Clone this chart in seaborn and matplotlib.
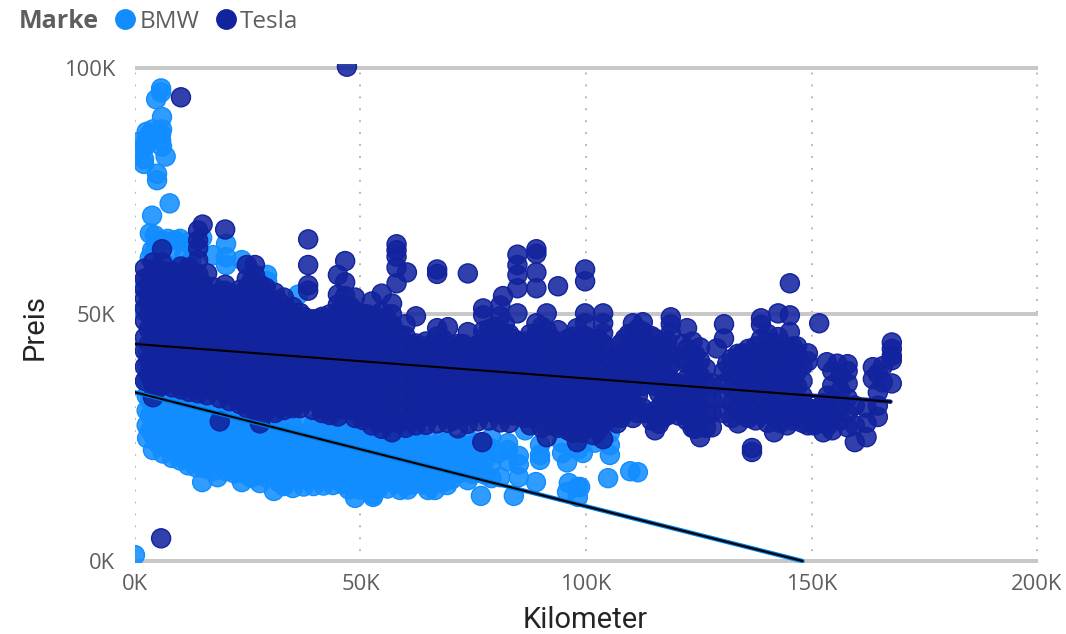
import pandas as pd
import matplotlib
matplotlib.use('Agg')
import matplotlib.pyplot as plt
import seaborn as sns
from matplotlib.lines import Line2D

# Values, in thousands: (kilometer, [prices at that kilometer])
bmw_columns = [
    (0, [1.2]),
    (1.1, [85]),
    (1.5, [83.5]),
    (1.8, [50.8, 55.5]),
    (2, [80.5, 81.5]),
    (2.2, [84]),
    (2.5, [57]),
    (2.6, [27.5, 30.5, 33.5, 36.5, 85.5, 87]),
    (2.7, [24.9, 39.5, 42.5]),
    (3.3, [61.5, 66.4, 86.5]),
    (3.8, [63, 70]),
    (4, [22.5, 25.5, 28.6, 31.7, 34.8, 87.5]),
    (4.4, [66]),
    (4.6, [63.5]),
    (4.7, [93.6]),
    (4.8, [65]),
    (4.9, [77.2, 78.5]),
    (5, [87]),
    (5.8, [85.2, 86.6, 95, 95.8]),
    (6, [65, 84, 87.5, 90]),
    (6.2, [21.8, 24.7, 27.9, 30.8, 34]),
    (6.8, [82]),
    (7, [60]),
    (7.3, [65.3]),
    (7.7, [72.5]),
    (8, [63]),
    (8.2, [20.9, 23.6, 26.8, 29.9, 33]),
    (9, [65]),
    (10, [20.4, 23.2, 26.5, 29.4, 32.7, 65.3]),
    (11, [62]),
    (11.5, [64.5]),
    (11.8, [19.4, 22.4, 25.6, 28.7, 31.8, 60]),
    (12.5, [61]),
    (13, [58]),
    (13.5, [19, 22.1, 25.2, 28.3, 31.5]),
    (14.9, [16, 19.3, 65.5]),
    (15.5, [18.8, 21.9, 24.8, 27.8, 31]),
    (17.3, [18.3, 21.3, 24.5, 27.5, 30.6, 62]),
    (18.3, [17]),
    (20.2, [18.2, 21.1, 24.2, 27.3, 30.4, 60, 61.6, 64.3]),
    (22, [17.8, 20.8, 23.8, 26.9, 30]),
    (23.7, [16, 19.2, 22.4, 25.4, 28.5, 61]),
    (25.8, [16.9, 20, 23.1, 26.2, 29.3]),
    (27.7, [15.8, 18.9, 22, 25.1, 28.2]),
    (29.3, [56.7, 58]),
    (30.8, [14.2, 17.4, 20.6, 23.7, 26.8, 29.9]),
    (33, [15.2, 18.3, 21.4, 24.5, 27.6]),
    (35, [14.8, 17.9, 21, 24.1, 27.2, 30.1]),
    (36.2, [54]),
    (37.4, [15.1, 18.2, 21.3, 24.3, 27.4]),
    (39.6, [15.2, 18.4, 21.5, 24.6, 27.7]),
    (41.8, [15.3, 18.5, 21.6, 24.7, 27.8]),
    (43.9, [15.4, 18.6, 21.7, 24.8, 27.9]),
    (46, [15.6, 18.7, 21.8, 24.9, 28]),
    (48.8, [12.8, 15.9, 19, 22.1, 25.2, 28.1]),
    (50.8, [15.6, 18.8, 21.9, 25, 28.2]),
    (52.8, [13, 13.4, 16.4, 19.5, 22.6, 25.7]),
    (55, [15.8, 19, 22.1, 25.2, 28]),
    (57, [16, 19.1, 22.3, 25.4]),
    (58.8, [14.4, 17.5, 20.6, 23.7, 26.5]),
    (60.5, [14.5, 17.6, 20.7, 23.8, 26]),
    (62.5, [16.2, 19.3, 22.4, 25.5]),
    (65, [14.4, 16.5, 19.6, 22.7, 24.8]),
    (66.5, [14.4, 17.2, 20.2, 23.3]),
    (69.2, [15.4, 18.5, 21.6, 24.2]),
    (71.5, [17.8, 20.7, 23.6]),
    (73.8, [16.4, 19.2, 22.1, 24.7]),
    (76, [18.8, 21.8, 24]),
    (76.7, [13.2]),
    (79, [16.8, 19.7, 22.8, 25]),
    (80.5, [21.9]),
    (81, [17]),
    (82.7, [20.2, 22.5, 23.9]),
    (84, [13.2]),
    (85.1, [17, 19.6, 21.3]),
    (86.5, [26.5]),
    (88.9, [16]),
    (89.8, [20.5, 21.5, 23.5]),
    (94.7, [21.9, 24]),
    (95.8, [14, 20]),
    (96.2, [15.8]),
    (98.2, [13, 15, 22.6]),
    (98.7, [15]),
    (99.3, [21.9]),
    (102, [24]),
    (104.9, [16.8]),
    (105.3, [21.5, 23.5, 26]),
    (109.8, [18.2]),
    (111.5, [18]),
]

# the dense part of the BMW cloud, between the columns above
bmw_core_columns = [
    (3.4, [26.5, 29.5, 32.5, 35.5]),
    (5.1, [23.8, 26.8, 29.9, 33]),
    (7.1, [23, 26, 29, 32]),
    (9.1, [22.3, 25.3, 28.3, 31.3]),
    (10.9, [21.5, 24.6, 27.7, 30.8]),
    (12.7, [20.8, 23.9, 27, 30]),
    (14.6, [20.3, 23.4, 26.5, 29.6]),
    (16.4, [19.8, 22.9, 26, 29]),
    (18.7, [19.5, 22.6, 25.7, 28.8]),
    (20.9, [19.7, 22.7, 25.8, 28.8]),
    (22.9, [18, 21, 24, 27, 30]),
    (24.8, [17.5, 20.6, 23.7, 26.8]),
    (26.8, [17.4, 20.5, 23.6, 26.7]),
    (28.9, [17, 20, 23, 26, 29]),
    (31.9, [16, 19, 22, 25, 28]),
    (34, [16.4, 19.5, 22.6, 25.7]),
    (36.2, [16.5, 19.6, 22.7, 25.8]),
    (38.5, [16.7, 19.8, 22.9, 26]),
    (40.7, [16.8, 19.9, 23, 26]),
    (42.9, [16.9, 20, 23.1, 26.2]),
    (45, [17, 20.1, 23.2, 26.3]),
    (47.4, [14.5, 17.4, 20.5, 23.5, 26.6]),
    (49.8, [14.5, 17.4, 20.5, 23.6, 26.7]),
    (51.8, [14.8, 17.9, 21, 24, 27]),
    (53.9, [14.6, 17.7, 20.8, 23.9, 26.5]),
    (56, [14.7, 17.6, 20.7, 23.8, 26.9]),
    (58, [15.8, 18.9, 22, 25]),
    (59.6, [15.5, 18.6, 21.7, 24.8]),
    (61.5, [15.5, 18.5, 21.5, 24.5]),
    (63.8, [15.5, 18, 21, 24]),
    (65.8, [15.5, 18.6, 21.7]),
    (68, [15.8, 18.9, 22, 24.5]),
    (70.3, [16.6, 19.6, 22.6]),
    (72.7, [18, 21, 23.5]),
    (74.9, [17.6, 20.6, 23.5]),
    (77.6, [17.5, 20.5, 23.5]),
]

tesla_columns = [
    (2.2, [36.5, 39.4, 42.6, 45.3, 48.7, 51.2, 53.2, 55.1, 57.3, 59.3]),
    (4, [33.2, 36.2, 39.1, 42.3, 45.4, 48.2, 51.3, 54.4, 57.2, 60.5]),
    (5.8, [4.6]),
    (6, [35.6, 38.7, 41.5, 44.6, 47.4, 50.5, 53.6, 56.3, 58.8, 60.5, 63.2]),
    (8.3, [35.2, 38.1, 41.2, 44.4, 47.3, 50.2, 53.4, 56.1, 58.7]),
    (10.2, [34.8, 37.6, 40.7, 43.5, 46.6, 49.3, 52.5, 55.4, 57.8, 59.7, 94]),
    (12, [34.3, 37.4, 40.2, 43.3, 46.1, 49.5, 52.2, 55.3, 59.5]),
    (14, [34, 37.1, 40.3, 43.2, 46.4, 49.2, 52.4, 55.1, 58.2, 61, 63.4, 65, 67]),
    (15, [68.2]),
    (16, [33.6, 36.5, 39.4, 42.6, 45.5, 48.7, 51.6, 54.3, 58.3]),
    (18.8, [28.3, 33, 36.1, 39.2, 42.4, 45.2, 48.3, 51.4, 54.5]),
    (20, [56, 67.2]),
    (21, [32.4, 35.3, 38.6, 41.4, 44.7, 47.5, 50.6, 53.2]),
    (23.3, [31.8, 34.9, 37.7, 40.8, 43.6, 46.9, 49.7, 52.8, 55]),
    (24.8, [31, 34.2, 37.1, 40.3, 43.2, 46.4, 49.2, 52.3, 55.2, 57.2, 60]),
    (26.6, [30.5, 33.6, 36.7, 39.8, 42.9, 46, 49.1, 52.2, 55.3, 58, 60]),
    (27.7, [27.9]),
    (29, [30.4, 33.2, 36.4, 39.5, 42.6, 45.7, 48.8, 51.9, 55.4]),
    (31, [30, 33.1, 36.2, 39.3, 42.4, 45.5, 48.6, 51.7, 54.4]),
    (33, [30.6, 33.7, 36.8, 39.9, 43, 46.1, 49.2, 53.4]),
    (35, [31, 34.1, 37.2, 40.3, 43.4, 46.5, 49.6, 51.5]),
    (36.6, [31, 34, 37.3, 40.2, 43.3, 46.4, 50.3]),
    (38.4, [33.6, 36.7, 39.7, 42.8, 45.9, 48.4, 54.8, 55.9, 60, 65.2]),
    (39.5, [30.6, 33.8, 36.9, 40, 43.1, 46.2, 49]),
    (41.5, [30, 33.2, 36.3, 39.4, 42.5, 45.6, 48.7, 49.5]),
    (43.2, [29.6, 32.8, 35.9, 39, 42.1, 45.2, 48.3, 50]),
    (45, [29.3, 32.4, 35.5, 38.6, 41.7, 44.8, 47.9, 50, 52, 54, 58]),
    (46.6, [32, 35.1, 38.2, 41.3, 44.4, 47.5, 50.6, 53.7, 56.5, 60.8]),
    (47, [100.2]),
    (48.8, [29, 32.1, 35.2, 38.3, 41.4, 44.5, 47.6, 50.7, 53.4]),
    (50.5, [28.6, 31.8, 34.9, 38, 41.1, 44.2, 47.3, 50]),
    (52.5, [27.5, 30.6, 33.7, 36.8, 39.9, 43, 46.1, 49.2, 52.6]),
    (54.7, [26.8, 30, 33.1, 36.2, 39.3, 42.4, 45.5, 48.6, 50.5, 54.2]),
    (57, [26.1, 29.2, 32.3, 35.4, 38.5, 41.6, 44.7, 47.8, 50, 52.2]),
    (58, [56.3, 59.5, 61.7, 63, 64.2]),
    (60, [27, 30.1, 33.2, 36.3, 39.4, 42.5, 45.6, 48]),
    (60.3, [58.5]),
    (62.3, [27.5, 30.6, 33.7, 36.8, 39.9, 43, 44.1, 49.6]),
    (64.5, [27.6, 30.7, 33.8, 36.9, 40, 43.1, 44.5]),
    (67, [27.9, 31, 34.1, 37.2, 40.3, 43.4, 45.5, 47.2, 58.2, 59.1]),
    (69.4, [28, 31.1, 34.2, 37.3, 40.4, 43.5, 47.4]),
    (71.6, [26.9, 30, 33.1, 36.2, 39.3, 42.4, 44]),
    (73.8, [27.8, 30.9, 34, 37.1, 40.2, 43.3, 46.4, 58.3]),
    (76, [28.3, 31.4, 34.5, 37.6, 40.7, 43.8]),
    (77, [24.1]),
    (77.2, [46.6, 49.8, 51.2]),
    (78.5, [28.5, 31.6, 34.7, 37.8, 40.9, 44, 47]),
    (81, [28.1, 31.2, 34.3, 37.4, 40.5, 43.6, 46.7, 49.6, 51.8]),
    (81.6, [53.7]),
    (83, [28, 31.1, 34.2, 37.3, 40.4, 43.5, 46]),
    (84.8, [30.6, 33.7, 36.8, 39.9, 43, 44.3, 50.2, 55.3, 58, 60, 62.1]),
    (87.6, [27.5, 30.6, 33.7, 36.8, 39.9, 43, 46]),
    (89, [31, 34, 37, 40.1, 43.2, 46, 48.2, 55.3, 58.5, 62.3, 63.2]),
    (91.3, [25.1, 28.2, 31.3, 34.4, 37.5, 40.6, 43.7, 46.8, 50.2]),
    (93.8, [27, 30.1, 33.2, 36.3, 39.4, 42.5, 46.8, 55.7]),
    (96, [26.5, 29.6, 32.7, 35.8, 38.9, 42, 45]),
    (98, [24.1, 27.2, 30.3, 33.4, 36.5, 39.6, 42.7, 47.2]),
    (99.8, [27, 30.1, 33.2, 36.3, 39.4, 42.5, 45.6, 48.2, 50.2, 56.7, 59.1]),
    (101.6, [25.5, 28.6, 31.7, 34.8, 37.9, 41, 45]),
    (103.8, [24.7, 27.8, 30.9, 34, 37.1, 40.2, 44, 46.2, 48.2, 50.2]),
    (106.9, [27.9, 31, 34.1, 37.2, 41]),
    (108.6, [30, 33.1, 36.2, 39.3, 42.4, 45.1]),
    (110.4, [29, 32.1, 35.2, 38.3, 41.4, 44.5, 48.2]),
    (112.6, [31, 35.5, 38.4, 41.5, 44.6, 46.5, 48.4]),
    (113.5, [30]),
    (115.3, [26.5, 29.5, 35.5, 38.5, 41.5, 45.1]),
    (117, [29, 32, 35.2, 38.3, 41.3, 44]),
    (118.8, [30.5, 33.6, 36.7, 39.8, 42, 46.3, 48, 49.4]),
    (120.5, [29.5, 33, 36]),
    (122.4, [28.5, 31, 34, 37, 40, 43, 47.2]),
    (125.3, [25.1, 28.2, 31.3, 34.4, 37.5, 40.6, 43.3]),
    (127.9, [27.1, 30, 33, 36]),
    (129, [43.1]),
    (130.6, [30, 33, 36, 38.5, 45.1, 48]),
    (131.3, [40]),
    (133.7, [27.9, 31, 34, 37, 40, 42]),
    (134.8, [42.1]),
    (136, [29, 31.5, 34.6, 37.7, 40.6, 43]),
    (136.8, [22.1, 22.9]),
    (138.8, [29.5, 32.6, 35.7, 38.8, 41.9, 45, 47.9, 49.2]),
    (141.7, [26.1, 29.2, 32.3, 35.4, 38.5, 41.6, 44.2]),
    (142.6, [45.4, 50.2]),
    (144.6, [27.5, 30.6, 33.7, 36.8, 39.9, 43]),
    (145.2, [46.4, 49.8, 56.3]),
    (146.8, [29.2, 32.3, 35.4, 38.5, 41.6, 43.5]),
    (149.2, [27.5, 31, 40.5, 42.1]),
    (151.7, [48.2]),
    (152.6, [26.1, 29, 32]),
    (153.4, [40.3]),
    (154.6, [26.5, 29.5, 32.5, 35.6, 38.5]),
    (155.7, [40]),
    (158, [27.1, 30, 33, 36, 38.5, 39.9]),
    (159.6, [24.1, 27.5, 31.5]),
    (162.2, [25.1, 28, 31]),
    (163.6, [39.3, 36.9]),
    (164.7, [29.2, 31.5, 34.2, 38]),
    (165.8, [36.2, 39.5]),
    (167.8, [36, 40.7, 41.6, 43, 44.3]),
]

# the dense part of the Tesla cloud, between the columns above
tesla_core_columns = [
    (3.1, [37.8, 40.9, 44, 47, 50, 53, 56]),
    (5, [35, 38, 41, 44, 47, 50, 53, 56, 59]),
    (7.1, [36.8, 40, 43, 46, 49, 52, 55, 58]),
    (9.2, [36.3, 39.3, 42.3, 45.3, 48.3, 51.3, 54.3, 57.3]),
    (11.1, [36, 39, 42, 45, 48, 51, 54, 57]),
    (13, [35.8, 38.8, 41.8, 44.8, 47.8, 50.8, 53.8, 56.8]),
    (15, [35.2, 38.2, 41.2, 44.2, 47.2, 50.2, 53.2, 56.2]),
    (17.4, [34.6, 37.8, 40.9, 44, 47, 50, 53, 55.5]),
    (19.9, [34, 37, 40.2, 43.2, 46.2, 49.2, 52.2, 54.8]),
    (22.1, [33.3, 36.4, 39.5, 42.6, 45.6, 48.6, 51.6, 54]),
    (24, [32.8, 35.8, 39, 42, 45, 48, 51, 54]),
    (25.7, [32.2, 35.2, 38.3, 41.4, 44.5, 47.5, 50.5, 53.6, 56.5]),
    (27.8, [32, 35, 38, 41, 44, 47, 50, 53, 56]),
    (30, [32, 35, 38, 41, 44, 47, 50, 53]),
    (32, [32, 35, 38, 41, 44, 47, 50, 52.5]),
    (34, [32.7, 35.7, 38.7, 41.7, 44.7, 47.7, 50.7]),
    (37.5, [32.5, 35.5, 38.5, 41.5, 44.5, 47.5, 49.5]),
    (40.5, [32, 35, 38, 41, 44, 47, 49]),
    (42.3, [31.3, 34.4, 37.5, 40.6, 43.7, 46.8]),
    (44.1, [31, 34, 37, 40, 43, 46, 49]),
    (45.9, [30.8, 33.8, 36.8, 39.8, 42.8, 45.8, 48.8, 51.8]),
    (47.8, [30.5, 33.5, 36.5, 39.5, 42.5, 45.5, 48.5, 51.5]),
    (49.7, [30.2, 33.3, 36.4, 39.5, 42.6, 45.7, 48.8]),
    (51.5, [29, 32, 35, 38, 41, 44, 47, 50]),
    (53.6, [28.5, 31.5, 34.5, 37.5, 40.5, 43.5, 46.5, 49.5]),
    (55.9, [28, 31, 34, 37, 40, 43, 46, 49]),
    (58.5, [28, 31, 34, 37, 40, 43, 46]),
    (61.2, [28.6, 31.7, 34.8, 37.9, 41, 44]),
    (63.4, [29, 32, 35, 38, 41, 43]),
    (65.8, [29.3, 32.4, 35.5, 38.6, 41.7, 44]),
    (68.2, [29.5, 32.6, 35.7, 38.8, 41.9, 45]),
    (70.5, [28.5, 31.6, 34.7, 37.8, 40.9, 43.5]),
    (72.7, [29.3, 32.4, 35.5, 38.6, 41.7, 44]),
    (74.9, [29.8, 32.9, 36, 39.1, 42.2]),
    (77.3, [30, 33, 36, 39, 42, 45]),
    (79.8, [29.9, 33, 36, 39, 42, 45, 47.5]),
    (82, [29.6, 32.7, 35.8, 38.9, 42, 45, 48]),
    (84, [29.5, 32.6, 35.7, 38.8, 41.9, 45]),
    (86.2, [29, 32.1, 35.2, 38.3, 41.4, 44.5]),
    (88.3, [29, 32.5, 35.5, 38.5, 41.5, 44.6]),
    (90.2, [27, 30, 33, 36, 39, 42, 45, 47.5]),
    (92.5, [27.5, 29.6, 32.7, 35.8, 38.9, 42, 45]),
    (94.9, [28.2, 31.3, 34.4, 37.5, 40.6, 43.7]),
    (97, [26, 28, 31.1, 34.2, 37.3, 40.4, 43.5, 45.5]),
    (98.9, [26, 29, 32, 35, 38, 41, 44]),
    (100.7, [27, 30, 33, 36, 39, 42, 45]),
    (102.7, [26.5, 29.6, 32.7, 35.8, 38.9, 42, 45]),
    (105.3, [29, 32, 35, 38, 41, 43]),
    (107.7, [29, 32.5, 35.6, 38.7, 41.8, 44]),
    (109.5, [30.5, 33.6, 36.7, 39.8, 42.9, 46]),
    (111.5, [30, 33.5, 36.6, 39.7, 42.8, 45.9, 47]),
    (114.5, [28.5, 36.8, 39.9, 43, 45.6]),
    (116.2, [27.8, 31, 34, 37, 40, 43]),
    (118, [29.5, 32.6, 35.7, 38.8, 41.9, 44.5]),
    (121.4, [30, 33, 35.5, 41, 44]),
    (123.6, [27, 30, 33, 36, 39, 42, 44.5]),
    (124.2, [26.8, 29.8, 32.8, 35.8, 38.8, 41.8]),
    (126.6, [27, 30, 33, 36, 39]),
    (132.3, [29, 32, 35, 38, 41]),
    (135, [29.5, 32.6, 35.7, 38.8, 41]),
    (137.6, [28.5, 31.5, 34.5, 37.5, 40.5, 43.5]),
    (140.3, [28, 31, 34, 37, 40, 43, 46]),
    (143, [28, 31, 34, 37, 40, 43]),
    (145.8, [28.5, 31.5, 34.5, 37.5, 40.5, 43.5]),
    (148, [28, 31, 33.5, 36.5, 39.5]),
    (150.5, [27.5, 30.5]),
    (151.5, [28, 31]),
    (153.6, [27.5, 30.5, 33.5]),
    (156.4, [28.5, 31.5, 34.5, 37.5]),
]

trend_brands = ['BMW', 'BMW', 'Tesla', 'Tesla']
trend_km = [0, 148, 0, 167.5]
trend_price = [34.2, 0, 44, 32.3]

x_ticks = [0, 50, 100, 150, 200]
y_ticks = [0, 50, 100]

brands = ['BMW', 'Tesla']
colors = {'BMW': '#118DFF', 'Tesla': '#12239E'}
line_colors = {'BMW': '#0078E0', 'Tesla': '#12239E'}

tick_color = '#605E5C'
title_color = '#252423'
font = 'Open Sans'


def to_frame(columns, brand):
    rows = [(km, price) for km, prices in columns for price in prices]
    df = pd.DataFrame(rows, columns=['Kilometer', 'Preis'])
    df['Marke'] = brand
    return df


df = pd.concat([
    to_frame(bmw_core_columns, 'BMW'),
    to_frame(bmw_columns, 'BMW'),
    to_frame(tesla_core_columns, 'Tesla'),
    to_frame(tesla_columns, 'Tesla'),
])
trend = pd.DataFrame({'Marke': trend_brands, 'Kilometer': trend_km, 'Preis': trend_price})

sns.set_theme(style='white')
plt.rcParams['font.family'] = [font, 'DejaVu Sans']

W, H = 1066, 634
fig = plt.figure(figsize=(W / 100, H / 100), dpi=100)
# axes box in pixels: left 134.5, right 1037.5, top 64, bottom 562.5
ax = fig.add_axes([134.5 / W, 1 - 562.5 / H, 903 / W, 498.5 / H])

ax.set_axisbelow(True)
sns.scatterplot(data=df, x='Kilometer', y='Preis', hue='Marke', hue_order=brands,
                palette=colors, s=188, linewidth=1.0, legend=False, ax=ax, zorder=3)

# solid rim, slightly see-through fill, as in the original
points = ax.collections[0]
face = points.get_facecolors().copy()
edge = face.copy()
face[:, 3] = 0.87
points.set_facecolors(face)
points.set_edgecolors(edge)

# coloured line first, thin black one on top of it
sns.lineplot(data=trend, x='Kilometer', y='Preis', hue='Marke', hue_order=brands,
             palette=line_colors, linewidth=3.2, legend=False, ax=ax, zorder=4, errorbar=None)
sns.lineplot(data=trend, x='Kilometer', y='Preis', units='Marke', estimator=None,
             color='black', linewidth=1.5, legend=False, ax=ax, zorder=5)

ax.set_xlim(-0.1, 200.1)
ax.set_ylim(-0.3, 100.75)
ax.set_xticks(x_ticks)
ax.set_yticks(y_ticks)
ax.set_xticklabels([f'{v}K' for v in x_ticks])
ax.set_yticklabels([f'{v}K' for v in y_ticks])
ax.tick_params(axis='both', length=0, labelsize=15.8, labelcolor=tick_color)
ax.tick_params(axis='x', pad=8)
ax.tick_params(axis='y', pad=14)

ax.grid(False)
ax.yaxis.grid(True, color='#C8C8C8', linewidth=2.9, linestyle='-')
ax.xaxis.grid(True, color='#B0B0B0', linewidth=1.3, linestyle=(0, (1, 5.6)))
sns.despine(ax=ax, left=True, bottom=True)

ax.set_xlabel('Kilometer', fontsize=21, color=title_color, family='Roboto')
ax.set_ylabel('Preis', fontsize=21, color=title_color, family='Roboto')
ax.xaxis.set_label_coords((585 - 134.5) / 903, (562.5 - 620) / 498.5)
ax.yaxis.set_label_coords((35 - 134.5) / 903, (562.5 - 327) / 498.5)
ax.xaxis.label.set_va('center')
ax.yaxis.label.set_va('center')

fig.text(19 / W, 1 - 22 / H, 'Marke', fontsize=18, fontweight='bold', color=tick_color,
         va='center', ha='left')
handles = [Line2D([], [], linestyle='', marker='o', markersize=14,
                  markerfacecolor=colors[b], markeredgecolor=colors[b]) for b in brands]
fig.legend(handles, brands, loc='center left', bbox_to_anchor=(113 / W, 1 - 22 / H),
           ncol=2, frameon=False, fontsize=17.5, handletextpad=0.08, columnspacing=0.6,
           borderpad=0, borderaxespad=0, labelcolor=tick_color, handlelength=1)

fig.savefig('out.png', dpi=100)
plt.close(fig)
